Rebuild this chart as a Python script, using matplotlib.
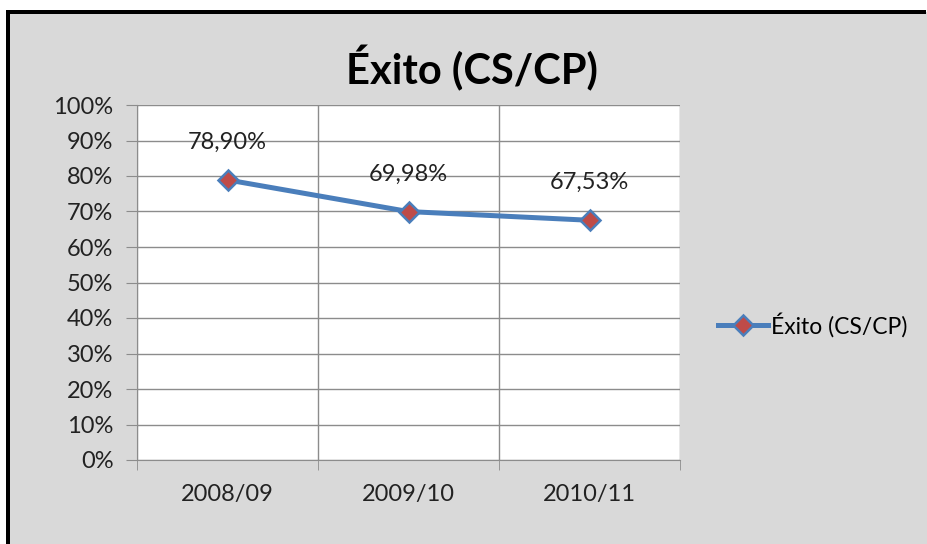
import matplotlib.pyplot as plt
from matplotlib.patches import Rectangle
from matplotlib.ticker import PercentFormatter

plt.rcParams['font.family'] = ['Lato', 'DejaVu Sans']

years = ["2008/09", "2009/10", "2010/11"]
exito = [78.90, 69.98, 67.53]
labels = ["78,90%", "69,98%", "67,53%"]

W, H = 928, 544
fig = plt.figure(figsize=(W / 100, H / 100), dpi=100)
fig.patch.set_facecolor("white")

# gray chart area, with black frame on top and left (rest is cut off)
fig.add_artist(Rectangle((8 / W, 0), 1 - 8 / W, 1 - 12 / H, transform=fig.transFigure,
                         facecolor="#d9d9d9", edgecolor="none", zorder=0))
fig.add_artist(Rectangle((6 / W, 1 - 14 / H), (W - 8) / W, 4 / H, transform=fig.transFigure,
                         facecolor="black", edgecolor="none", zorder=0.5))
fig.add_artist(Rectangle((6 / W, 0), 4 / W, 1 - 10 / H, transform=fig.transFigure,
                         facecolor="black", edgecolor="none", zorder=0.5))

ax = fig.add_axes([137 / W, 1 - 460 / H, (680 - 137) / W, (460 - 105) / H])
ax.set_facecolor("white")

x = range(len(years))
ax.plot(x, exito, color="#4a7ebb", linewidth=3.6, marker="D", markersize=10,
        markerfacecolor="#be4b48", markeredgecolor="#4a7ebb", markeredgewidth=1.8,
        label="Éxito (CS/CP)", zorder=3)
for i, v in enumerate(exito):
    ax.annotate(labels[i], (i, v), xytext=(0, 27), textcoords="offset points",
                ha="center", va="center", fontsize=17, color="#222222")

ax.set_xlim(-0.5, 2.5)
ax.set_ylim(0, 100)
ax.set_yticks(range(0, 101, 10))
ax.yaxis.set_major_formatter(PercentFormatter(decimals=0))
ax.set_xticks(x)
ax.set_xticklabels(years)
ax.set_xticks([-0.5, 0.5, 1.5, 2.5], minor=True)
ax.grid(axis="y", color="#8c8c8c", linewidth=1)
ax.grid(axis="x", which="minor", color="#8c8c8c", linewidth=1)
ax.set_axisbelow(True)
ax.tick_params(axis="x", which="major", length=0, pad=17, labelsize=17, colors="#222222")
ax.tick_params(axis="x", which="minor", length=7, color="#8c8c8c")
ax.tick_params(axis="y", length=8, color="#8c8c8c", labelsize=17, labelcolor="#222222", pad=9)
for s in ["top", "right"]:
    ax.spines[s].set_visible(False)
ax.spines["left"].set_color("#8c8c8c")
ax.spines["bottom"].set_color("#8c8c8c")

fig.text(472 / W, 1 - 68 / H, "Éxito (CS/CP)", ha="center", va="center",
         fontsize=30, fontweight="bold")

ax.legend(loc="center left", bbox_to_anchor=(697 / W, 1 - 325 / H),
          bbox_transform=fig.transFigure, frameon=False, fontsize=16.5,
          handlelength=2.2, handletextpad=0.15)

fig.savefig("out.png", dpi=100, facecolor=fig.get_facecolor())
